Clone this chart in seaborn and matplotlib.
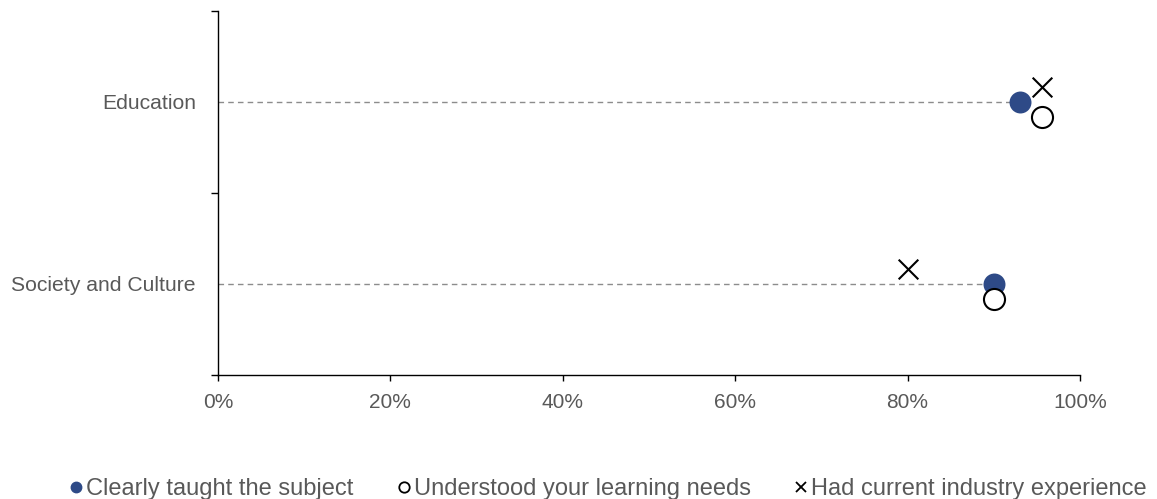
import numpy as np
import pandas as pd
import matplotlib
matplotlib.use("Agg")
import matplotlib.pyplot as plt
import seaborn as sns
from matplotlib.lines import Line2D

categories = ["Education", "Society and Culture"]
taught = [0.931, 0.900]
needs = [0.956, 0.900]
industry = [0.956, 0.800]

series_names = ["Clearly taught the subject", "Understood your learning needs",
                "Had current industry experience"]

navy = "#2E4A87"
grey_text = "#595959"

sns.set_theme(style="white")
plt.rcParams["font.family"] = ["Liberation Sans", "DejaVu Sans"]

pos = np.arange(len(categories)) + 0.5
off = 0.082

df = pd.DataFrame({
    "category": categories,
    "y": pos,
    "taught": taught,
    "needs": needs,
    "industry": industry,
})

fig = plt.figure(figsize=(11.57, 4.99), dpi=100)
ax = fig.add_axes([0.1884, 0.2485, 0.9334 - 0.1884, 0.978 - 0.2485])

ax.hlines(df["y"], 0, df["taught"], colors="#8c8c8c", linestyles=(0, (4, 3)),
          linewidth=1, zorder=1)

sns.scatterplot(data=df, x="taught", y="y", ax=ax, color=navy, s=250,
                edgecolor=navy, linewidth=0, zorder=3, legend=False)
sns.scatterplot(x=df["needs"], y=df["y"] + off, ax=ax, s=230, facecolor="white",
                edgecolor="black", linewidth=1.5, zorder=3, legend=False)
sns.scatterplot(x=df["industry"], y=df["y"] - off, ax=ax, marker="x", s=200,
                color="black", linewidth=1.5, zorder=3, legend=False)

ax.set_xlim(0, 1)
ax.set_ylim(len(categories), 0)
ax.set_xticks(np.linspace(0, 1, 6))
ax.set_xticklabels([f"{int(round(v * 100))}%" for v in np.linspace(0, 1, 6)])
ax.set_yticks(np.arange(len(categories) + 1))
ax.set_yticklabels([])
ax.set_yticks(pos, minor=True)
ax.set_yticklabels(categories, minor=True)
ax.set_xlabel("")
ax.set_ylabel("")

for side in ["top", "right"]:
    ax.spines[side].set_visible(False)
for side in ["left", "bottom"]:
    ax.spines[side].set_color("black")
    ax.spines[side].set_linewidth(1)

ax.tick_params(axis="x", which="major", direction="out", length=4.5, width=1,
               color="black", pad=8.5, labelsize=15, labelcolor=grey_text, bottom=True)
ax.tick_params(axis="y", which="major", direction="out", length=5, width=1,
               color="black", left=True)
ax.tick_params(axis="y", which="minor", length=0, pad=16, labelsize=15.2,
               labelcolor=grey_text)

handles = [
    Line2D([], [], marker="o", linestyle="none", markersize=7.5, markerfacecolor=navy,
           markeredgecolor=navy),
    Line2D([], [], marker="o", linestyle="none", markersize=7.5, markerfacecolor="white",
           markeredgecolor="black", markeredgewidth=1.3),
    Line2D([], [], marker="x", linestyle="none", markersize=7.5, color="black",
           markeredgewidth=1.3),
]
fig.legend(handles, series_names, loc="center left", bbox_to_anchor=(58 / 1157, 0.020),
           ncol=3, frameon=False, fontsize=17, labelcolor=grey_text, borderpad=0,
           handletextpad=0.17, columnspacing=1.9, handlelength=0.5)

fig.savefig("out.png", dpi=100)
